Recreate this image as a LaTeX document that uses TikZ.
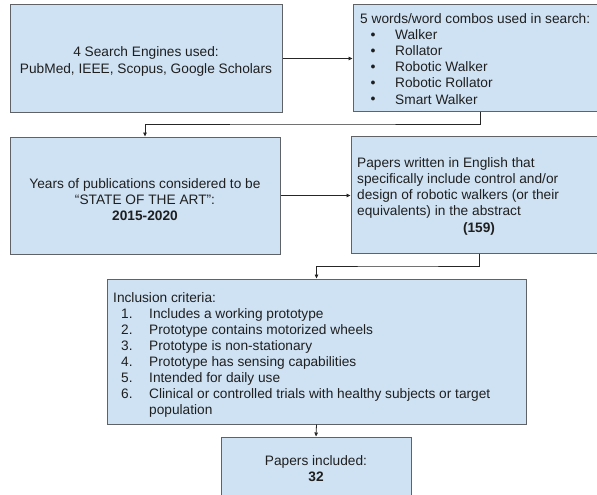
\documentclass[tikz,border=0pt]{standalone}
\usepackage{fontspec}
\setmainfont{Liberation Sans}
\usetikzlibrary{arrows.meta,calc}
\definecolor{boxfill}{HTML}{CFE2F3}
\definecolor{boxline}{HTML}{5F6368}
\definecolor{lin}{HTML}{262626}
\begin{document}
\begin{tikzpicture}[x=1pt,y=-1pt,
  box/.style={draw=boxline, fill=boxfill, line width=1pt, rectangle, inner sep=0pt},
  conn/.style={draw=lin, line width=0.8pt, -{Triangle[length=4pt,width=3.5pt]}},
  txt/.style={inner sep=0pt, text=black!88, font=\fontsize{13.7}{16}\selectfont},
  bold/.style={txt, font=\fontsize{13.7}{16}\selectfont\bfseries},
  bul/.style={inner sep=0pt, text=black!88, font=\fontsize{9}{16}\selectfont}]
\useasboundingbox (0,0) rectangle (597,495);
\clip (0,0) rectangle (597,495);
% boxes
\node[box, minimum width=272pt, minimum height=107pt] (A) at (146,58.5) {};
\node[box, minimum width=254pt, minimum height=106pt] (B) at (480,58) {};
\node[box, minimum width=270pt, minimum height=117pt] (C) at (145,195.5) {};
\node[box, minimum width=257pt, minimum height=117pt] (D) at (479.5,194.5) {};
\node[box, minimum width=419pt, minimum height=145pt] (E) at (316.5,351.5) {};
\node[box, minimum width=190pt, minimum height=70pt] (F) at (316,472) {};
% connectors
\coordinate (bc) at ($(B.south)!.5!(C.north)$);
\coordinate (de) at ($(D.south)!.5!(E.north)$);
\draw[conn] (A.east) -- (B.west |- A.east);
\draw[conn] (B.south) |- (bc) -| (C.north);
\draw[conn] (C.east) -- (D.west |- C.east);
\draw[conn] (D.south) |- (de) -| (E.north);
\draw[conn] (E.south) -- (F.north);
% box A text
\node[txt, anchor=base] (a1) at (146,57) {4 Search Engines used:};
\node[txt, anchor=base] (a2) at (146,73.5) {PubMed, IEEE, Scopus, Google Scholars};
% box B text
\node[txt, anchor=base west] (b0) at (360,24) {5 words/word combos used in search:};
\foreach \t [count=\i] in {Walker,Rollator,Robotic Walker,Robotic Rollator,Smart Walker}{
  \node[bul] (bb\i) at (373,19+16*\i) {●};
  \node[txt, anchor=base west] (bt\i) at (395,24+16*\i) {\t};
}
% box C text
\node[txt, anchor=base] (c1) at (145,188) {Years of publications considered to be};
\node[txt, anchor=base] (c2) at (145,204) {“STATE OF THE ART”:};
\node[bold, anchor=base] (c3) at (145,220) {2015-2020};
% box D text
\node[txt, anchor=base west] (d1) at (357,167) {Papers written in English that};
\node[txt, anchor=base west] (d2) at (357,183.3) {specifically include control and/or};
\node[txt, anchor=base west] (d3) at (357,199.6) {design of robotic walkers (or their};
\node[txt, anchor=base west] (d4) at (357,215.9) {equivalents) in the abstract};
\node[bold, anchor=base] (d5) at (479,232.2) {(159)};
% box E text
\node[txt, anchor=base west] (e0) at (113,302) {Inclusion criteria:};
\foreach \t [count=\i] in {Includes a working prototype,Prototype contains motorized wheels,Prototype is non-stationary,Prototype has sensing capabilities,Intended for daily use,Clinical or controlled trials with healthy subjects or target}{
  \node[txt, anchor=base west] (en\i) at (121,302+16*\i) {\i.};
  \node[txt, anchor=base west] (et\i) at (149,302+16*\i) {\t};
}
\node[txt, anchor=base west] (et7) at (149,414) {population};
% box F text
\node[txt, anchor=base] (f1) at (316,465) {Papers included:};
\node[bold, anchor=base] (f2) at (316,481) {32};
\end{tikzpicture}
\end{document}
